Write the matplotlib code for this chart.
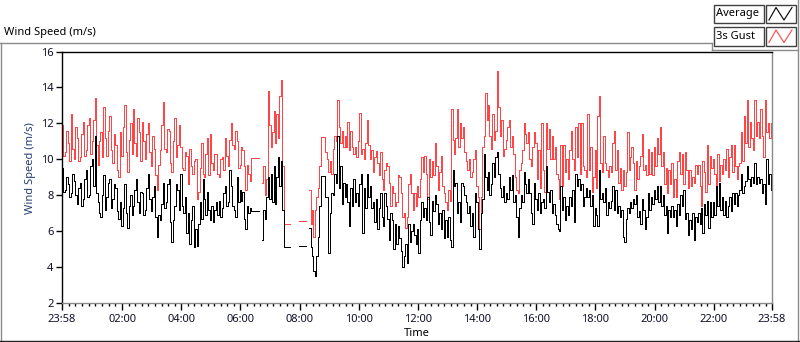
import numpy as np
import matplotlib.pyplot as plt
from matplotlib.lines import Line2D
from matplotlib.patches import Rectangle

nan = np.nan

# one sample every 3 minutes, first sample at 23:58 (20 samples = 1 hour)
sample_hours = 0.05

average = [
    9.5, 8.2, 8.3, 9.0, 8.6, 7.9, 8.1, 9.2, 8.8, 8.0,
    7.5, 8.4, 8.7, 7.4, 7.8, 8.9, 9.4, 7.9, 8.0, 9.6,
    10.0, 8.5, 11.3, 8.1, 7.6, 7.0, 6.8, 8.0, 9.1, 7.2,
    7.9, 8.7, 8.9, 7.3, 7.8, 8.6, 8.4, 7.1, 6.7, 7.6,
    6.3, 7.3, 8.6, 7.0, 6.2, 7.4, 8.0, 6.9, 7.4, 8.3,
    8.9, 7.6, 7.0, 8.2, 8.1, 6.9, 7.2, 8.4, 9.2, 7.8,
    7.1, 7.9, 8.5, 6.8, 5.7, 6.9, 6.6, 7.5, 8.7, 7.3,
    7.6, 8.6, 8.9, 6.5, 5.4, 6.6, 7.4, 8.6, 8.3, 7.2,
    9.2, 7.4, 7.0, 7.9, 5.9, 7.0, 5.3, 6.6, 7.4, 5.1,
    6.1, 5.2, 6.4, 7.6, 6.7, 8.9, 7.8, 6.9, 8.2, 7.2,
    6.6, 7.4, 6.5, 7.2, 7.6, 6.9, 7.7, 6.8, 7.3, 8.1,
    8.5, 7.4, 7.6, 9.4, 8.5, 7.4, 7.2, 6.8, 9.0, 7.6,
    8.3, 7.7, 8.2, 6.7, 6.1, 7.4, 7.0, 7.3, 7.13, 7.13,
    7.13, 7.13, 7.13, nan, nan, 5.5, 7.2, 6.7, 7.9, 9.0,
    7.8, 9.2, 7.6, 9.6, 7.5, 9.0, 10.1, 8.5, 9.9, 7.2,
    5.1, 5.1, 5.1, 5.1, nan, nan, nan, nan, nan, nan,
    5.15, 5.15, 5.15, 5.15, 5.15, nan, nan, 6.2, 5.1, 4.6,
    3.8, 3.5, 4.6, 5.7, 7.4, 9.07, 9.07, 9.07, 7.9, 7.9,
    4.8, 7.0, 8.1, 8.0, 9.2, 8.7, 11.3, 8.4, 9.6, 7.5,
    8.7, 7.9, 8.6, 7.6, 6.3, 8.4, 7.4, 8.9, 7.6, 8.1,
    7.4, 8.6, 9.2, 5.9, 8.4, 7.3, 9.2, 7.9, 8.5, 7.3,
    7.6, 6.5, 7.8, 6.1, 7.3, 8.1, 6.8, 6.3, 8.1, 7.4,
    6.7, 5.5, 7.0, 6.6, 5.0, 6.4, 5.3, 6.3, 5.6, 4.9,
    4.0, 4.6, 5.3, 4.2, 6.4, 5.4, 6.0, 6.4, 5.8, 5.3,
    6.1, 4.8, 6.6, 7.6, 6.8, 7.3, 6.6, 7.9, 6.5, 5.8,
    7.7, 7.1, 8.0, 7.5, 6.4, 7.0, 6.1, 7.2, 5.6, 6.6,
    5.7, 6.8, 5.5, 5.1, 9.4, 8.5, 8.7, 7.0, 7.6, 6.5,
    8.7, 8.5, 8.0, 7.6, 7.0, 7.4, 6.3, 7.0, 5.7, 8.1,
    7.6, 6.1, 5.0, 7.0, 7.8, 10.3, 9.0, 8.3, 9.3, 8.0,
    8.6, 9.8, 9.0, 10.1, 10.4, 9.2, 8.4, 7.9, 8.5, 7.6,
    8.1, 7.8, 9.0, 8.3, 9.1, 7.6, 8.0, 6.8, 5.7, 7.3,
    8.0, 7.6, 9.3, 8.6, 8.1, 8.9, 8.1, 7.0, 6.4, 8.7,
    7.8, 7.2, 8.1, 7.0, 7.6, 7.8, 7.3, 9.6, 8.2, 7.6,
    8.3, 7.0, 7.5, 6.9, 6.4, 6.1, 6.0, 8.5, 7.2, 7.9,
    6.6, 7.4, 6.9, 7.9, 7.4, 8.3, 6.5, 9.2, 8.5, 8.9,
    8.3, 8.6, 7.4, 7.9, 8.4, 7.9, 8.3, 7.4, 8.0, 6.3,
    7.3, 6.9, 6.3, 9.4, 7.8, 8.1, 7.6, 8.4, 6.9, 7.6,
    7.3, 7.7, 8.5, 7.2, 8.3, 7.0, 7.4, 6.8, 7.2, 5.7,
    5.4, 6.7, 7.3, 7.0, 7.6, 7.3, 7.8, 7.5, 8.0, 6.8,
    7.1, 6.4, 7.8, 7.2, 6.1, 6.8, 8.1, 7.2, 7.9, 7.5,
    8.3, 7.8, 8.5, 7.6, 8.5, 7.4, 8.0, 6.9, 7.4, 5.9,
    7.2, 6.8, 7.4, 6.8, 7.2, 6.3, 7.5, 6.9, 8.0, 7.4,
    8.3, 6.7, 7.0, 5.8, 6.6, 6.1, 7.0, 5.5, 6.8, 6.5,
    7.0, 6.4, 7.3, 5.9, 7.5, 6.9, 7.7, 6.2, 7.6, 6.8,
    7.6, 6.9, 8.5, 7.4, 8.7, 7.2, 7.9, 6.9, 7.7, 6.8,
    7.4, 7.9, 7.1, 8.1, 7.5, 8.1, 7.4, 8.0, 8.3, 9.2,
    8.1, 8.5, 8.8, 9.6, 8.9, 8.5, 9.0, 8.7, 9.8, 8.6,
    9.0, 8.7, 8.9, 8.1, 8.6, 7.5, 10.0, 8.6, 9.2, 8.3,
    8.4,
]

gust = [
    11.9, 10.2, 10.4, 11.6, 10.9, 9.9, 12.5, 10.6, 10.0, 11.8,
    11.2, 9.9, 10.1, 11.4, 12.1, 10.2, 10.5, 11.9, 12.3, 10.3,
    11.0, 12.2, 13.4, 10.8, 9.7, 11.0, 11.5, 10.1, 12.9, 11.2,
    10.2, 11.6, 12.4, 10.5, 9.8, 11.4, 10.8, 9.4, 9.0, 11.5,
    10.2, 11.8, 13.0, 10.4, 9.3, 11.1, 12.0, 10.3, 12.8, 10.9,
    10.2, 12.3, 11.5, 9.9, 12.1, 11.0, 10.0, 11.4, 12.0, 10.4,
    9.6, 11.3, 10.6, 9.1, 8.3, 9.7, 10.5, 11.9, 13.2, 10.6,
    10.4, 11.7, 11.6, 9.8, 9.3, 11.0, 12.3, 10.1, 10.8, 11.9,
    10.7, 9.5, 9.4, 10.4, 10.2, 8.6, 10.6, 9.6, 9.2, 9.9,
    10.0, 7.8, 8.2, 9.5, 10.9, 9.2, 9.0, 10.3, 11.2, 9.1,
    11.4, 9.8, 9.4, 10.3, 10.3, 9.2, 9.0, 10.0, 10.1, 9.4,
    11.2, 10.2, 9.6, 11.1, 12.0, 10.8, 10.6, 11.6, 11.0, 9.5,
    9.7, 10.7, 10.5, 9.6, 8.3, 9.7, 9.2, 8.8, 10.07, 10.07,
    10.07, 10.07, 10.07, nan, nan, 8.7, 9.6, 8.0, 8.9, 13.8,
    11.9, 10.7, 11.5, 12.7, 10.9, 12.5, 11.2, 13.5, 14.4, 9.6,
    6.4, 6.4, 6.4, 6.4, nan, nan, nan, nan, nan, nan,
    6.55, 6.55, 6.55, 6.55, 6.55, nan, nan, 8.3, 6.4, 7.2,
    5.7, 7.2, 7.9, 8.4, 9.6, 11.25, 11.25, 11.25, 10.4, 10.0,
    9.3, 9.9, 9.2, 10.6, 11.3, 11.0, 13.3, 11.8, 10.9, 11.6,
    10.7, 11.3, 10.7, 12.1, 10.5, 11.6, 10.7, 10.3, 10.7, 10.1,
    11.0, 12.6, 10.3, 10.6, 10.0, 10.9, 12.2, 10.8, 10.0, 10.5,
    9.3, 10.1, 10.45, 9.8, 9.1, 10.4, 8.9, 8.3, 9.4, 9.8,
    9.6, 8.7, 7.4, 8.5, 8.1, 7.4, 7.6, 9.1, 9.0, 8.1,
    6.8, 7.0, 6.2, 6.8, 8.6, 9.2, 8.1, 7.2, 8.1, 7.4,
    8.5, 7.9, 8.9, 10.1, 9.3, 10.2, 9.2, 7.8, 10.0, 9.0,
    9.9, 9.1, 10.9, 9.6, 8.3, 9.3, 10.2, 8.5, 8.1, 7.6,
    7.2, 8.3, 7.7, 12.8, 11.1, 10.3, 11.2, 12.8, 10.7, 12.0,
    11.2, 11.8, 10.4, 9.9, 9.4, 10.0, 9.0, 9.3, 10.0, 10.5,
    8.5, 7.9, 6.1, 7.9, 10.7, 11.3, 13.7, 12.2, 13.0, 11.3,
    10.6, 12.5, 11.1, 11.6, 14.9, 12.9, 11.3, 12.2, 10.2, 10.6,
    11.1, 11.8, 12.2, 10.7, 11.3, 10.3, 9.0, 8.3, 8.1, 9.4,
    9.8, 10.5, 12.0, 11.4, 10.9, 11.5, 10.0, 9.6, 10.7, 11.5,
    10.9, 8.9, 10.5, 8.4, 12.0, 9.4, 8.2, 12.0, 10.6, 11.7,
    10.0, 11.3, 10.0, 10.7, 9.2, 8.9, 7.8, 10.8, 8.5, 10.8,
    9.3, 10.0, 8.9, 10.5, 11.6, 10.0, 9.4, 11.8, 10.1, 12.0,
    9.2, 12.0, 9.6, 9.4, 9.0, 12.5, 9.4, 10.7, 8.2, 9.0,
    10.5, 8.4, 12.4, 13.5, 9.8, 9.3, 11.3, 9.8, 9.4, 9.0,
    9.6, 9.3, 10.9, 11.6, 9.4, 10.5, 8.7, 9.5, 8.3, 9.4,
    8.5, 9.3, 11.5, 9.4, 10.1, 10.7, 9.8, 8.3, 9.9, 8.9,
    9.6, 10.2, 11.4, 9.4, 9.7, 9.1, 10.6, 9.2, 10.4, 9.1,
    10.7, 9.6, 11.2, 10.3, 11.8, 9.6, 10.4, 8.6, 9.5, 8.1,
    9.4, 8.6, 9.8, 7.9, 8.9, 7.9, 9.9, 10.4, 9.2, 10.3,
    8.6, 10.4, 9.4, 8.4, 9.4, 8.5, 9.0, 8.7, 9.7, 9.2,
    9.7, 8.5, 7.4, 9.9, 9.3, 8.2, 10.8, 8.6, 10.2, 9.5,
    10.0, 9.2, 8.5, 10.3, 8.8, 9.7, 9.2, 10.0, 9.4, 10.6,
    9.0, 10.1, 10.8, 9.3, 10.8, 9.6, 8.9, 9.6, 9.8, 11.5,
    9.9, 12.4, 10.9, 13.3, 10.7, 12.1, 11.2, 10.5, 13.3, 11.3,
    12.1, 11.2, 12.8, 11.3, 10.1, 13.3, 11.5, 12.0, 11.2, 12.0,
    10.7,
]

tick_labels = ["23:58", "02:00", "04:00", "06:00", "08:00", "10:00", "12:00",
               "14:00", "16:00", "18:00", "20:00", "22:00", "23:58"]
tick_hours = [0.0] + [2 * k + 2 / 60 for k in range(1, 12)] + [24.0]

plt.rcParams["font.family"] = ["Noto Sans", "DejaVu Sans"]
plt.rcParams["font.size"] = 8

W, H = 800, 342
fig = plt.figure(figsize=(W / 100, H / 100), dpi=100)


def fx(px):
    return px / W


def fy(py):
    return 1 - py / H


ax = fig.add_axes([fx(62), fy(303), fx(772) - fx(62), fy(51.5) - fy(303)])
t = np.arange(len(average)) * sample_hours
ax.step(t, gust, where="post", color="#ff4545", lw=0.5, antialiased=False)
ax.step(t, average, where="post", color="black", lw=0.5, antialiased=False)

ax.set_xlim(0, 24)
ax.set_ylim(2, 16)
ax.set_yticks(np.arange(2, 17, 2))
ax.set_xticks(tick_hours, tick_labels)
minor = []
for a, b in zip(tick_hours[:-1], tick_hours[1:]):
    minor += list(np.linspace(a, b, 10)[1:-1])
ax.set_xticks(minor, minor=True)

for side in ["top", "left"]:
    ax.spines[side].set_color("black")
for side in ["right", "bottom"]:
    ax.spines[side].set_color("#8a8a8a")
for s in ax.spines.values():
    s.set_linewidth(1)

ax.tick_params(axis="y", direction="out", length=4, width=1, pad=2,
               labelcolor="#10102a")
ax.tick_params(axis="x", which="major", direction="out", length=5, width=1,
               pad=3, labelcolor="#10102a")
ax.tick_params(axis="x", which="minor", direction="out", length=2.5, width=1)

ax.set_xlabel("Time")
ax.xaxis.label.set_va("center")
ax.xaxis.set_label_coords(0.5, -0.123)
ax.set_ylabel("Wind Speed (m/s)", color="#243f73")
ax.yaxis.label.set_va("center")
ax.yaxis.set_label_coords(-0.0437, 0.537)

# outer frame
frame = [
    ([0, 712], [42.5, 42.5], "#8a8a8a"),
    ([712, 712], [42.5, 49.5], "#8a8a8a"),
    ([712, 798], [49.5, 49.5], "#8a8a8a"),
    ([0.5, 0.5], [42.5, 341], "#8a8a8a"),
    ([797.5, 797.5], [0, 341], "#8a8a8a"),
    ([0, 800], [340.8, 340.8], "#202020"),
]
for xs, ys, c in frame:
    fig.add_artist(Line2D([fx(v) for v in xs], [fy(v) for v in ys],
                          transform=fig.transFigure, color=c, lw=1))

fig.text(fx(4), fy(32), "Wind Speed (m/s)", ha="left", va="center")

# legend
for row, (label, color) in enumerate([("Average", "black"), ("3s Gust", "#ff4545")]):
    top = 4.5 + row * 22.5
    bot = top + 18.5
    for x0, x1 in [(713.5, 763.5), (765.5, 795.5)]:
        fig.add_artist(Rectangle((fx(x0), fy(bot)), (x1 - x0) / W, (bot - top) / H,
                                 transform=fig.transFigure, fc="white",
                                 ec="#404040", lw=1))
    fig.text(fx(716), fy((top + bot) / 2), label, ha="left", va="center")
    zx = [769, 776, 784, 792]
    zy = [bot - 3, top + 3, bot - 3, top + 3]
    fig.add_artist(Line2D([fx(v) for v in zx], [fy(v) for v in zy],
                          transform=fig.transFigure, color=color, lw=0.8))

fig.savefig("out.png", dpi=100)
